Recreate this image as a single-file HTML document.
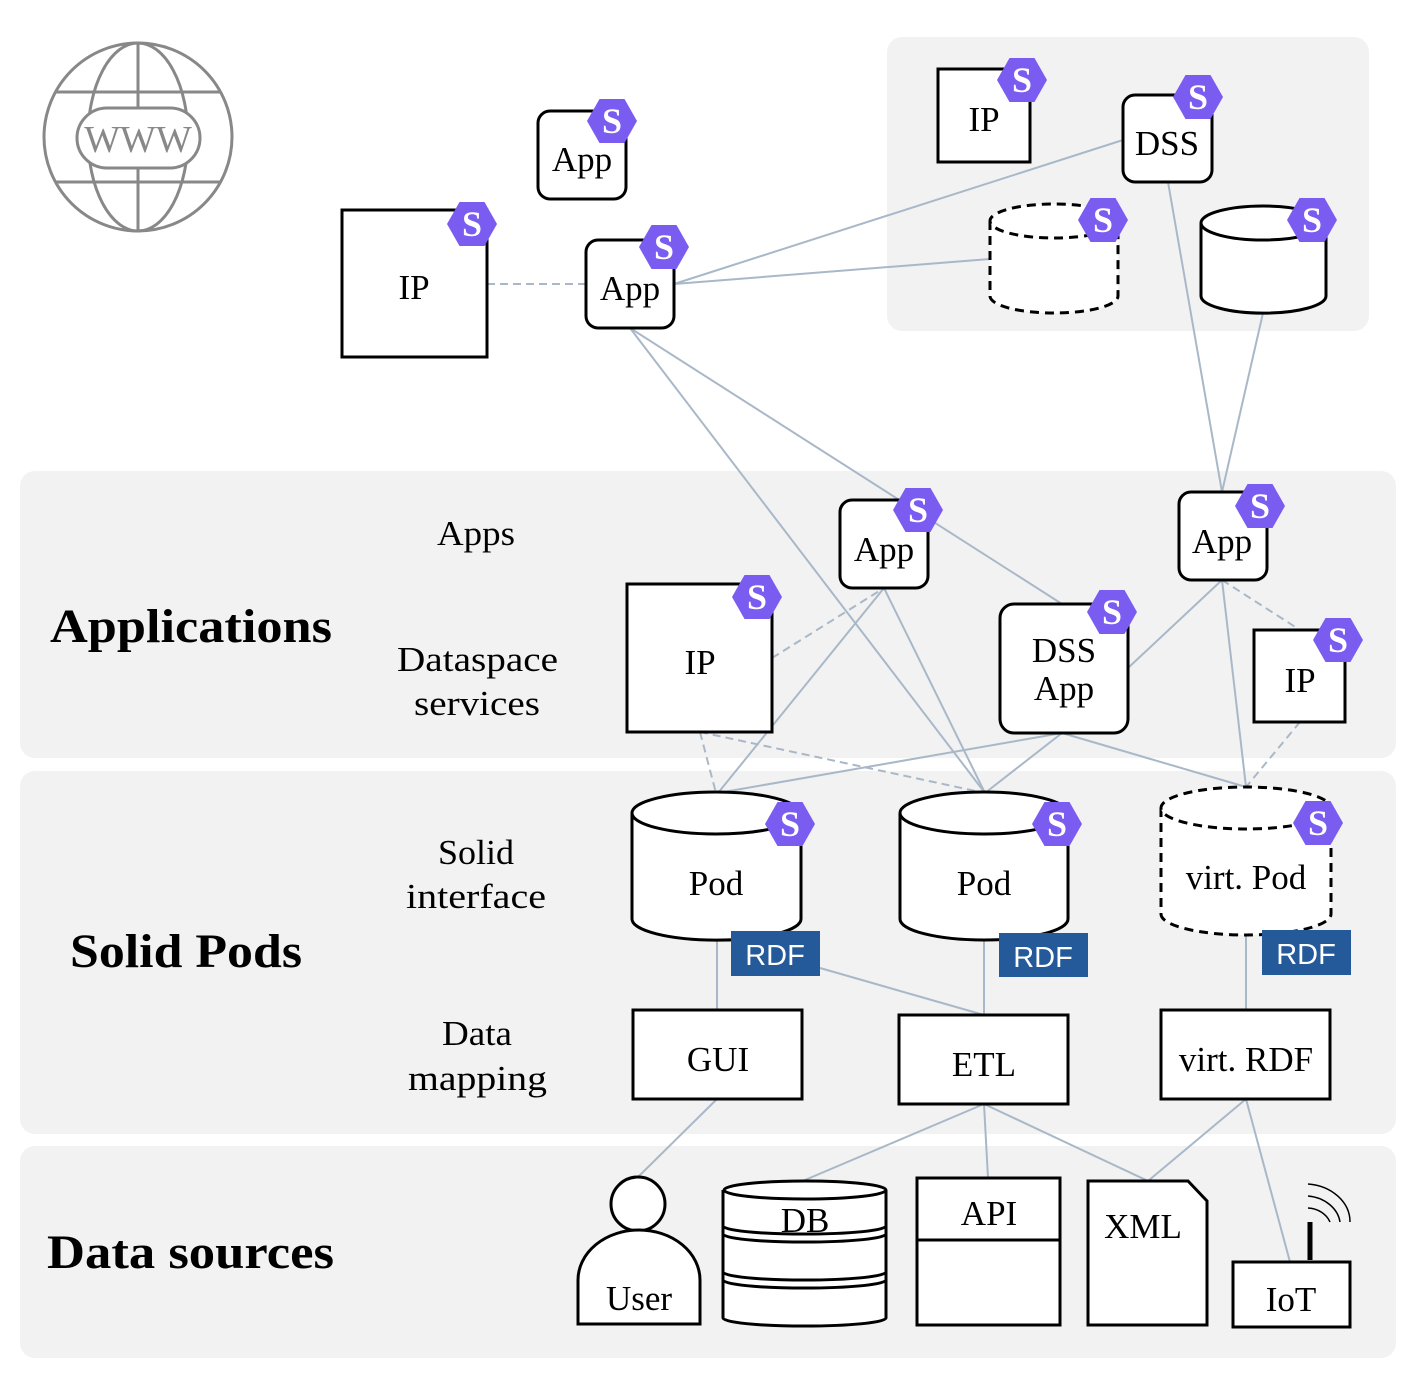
<!DOCTYPE html>
<html><head><meta charset="utf-8"><style>html,body{margin:0;padding:0;background:#fff}svg{display:block}</style></head>
<body>
<svg width="1410" height="1374" viewBox="0 0 1410 1374" xmlns="http://www.w3.org/2000/svg" font-family="'Liberation Serif', serif">
<defs>
<g id="S"><polygon points="-25,0 -12.5,-22 12.5,-22 25,0 12.5,22 -12.5,22" fill="#7b5cf0"/><text x="0" y="12" text-anchor="middle" font-family="'Liberation Serif',serif" font-weight="bold" font-size="36" fill="#fff">S</text></g>
</defs>
<rect x="887" y="37" width="482" height="294" rx="15" fill="#f2f2f2"/>
<rect x="20" y="471" width="1376" height="287" rx="15" fill="#f2f2f2"/>
<rect x="20" y="771" width="1376" height="363" rx="15" fill="#f2f2f2"/>
<rect x="20" y="1146" width="1376" height="212" rx="15" fill="#f2f2f2"/>

<g fill="none" stroke="#888" stroke-width="3">
<circle cx="138" cy="137" r="94"/>
<ellipse cx="138" cy="137" rx="50" ry="94"/>
<line x1="138" y1="43" x2="138" y2="231"/>
<line x1="55" y1="92" x2="221" y2="92"/>
<line x1="55" y1="182" x2="221" y2="182"/>
<rect x="77" y="108" width="123" height="60" rx="30" fill="#fff"/>
</g>
<text x="138" y="152" text-anchor="middle" font-size="38" fill="#888">WWW</text>

<g stroke="#a9b8c8" stroke-width="2" fill="none">
<line x1="674" y1="284" x2="1123" y2="140"/>
<line x1="674" y1="284" x2="990" y2="259"/>
<line x1="630" y1="328" x2="985" y2="793"/>
<line x1="630" y1="328" x2="1062" y2="604"/>
<line x1="1168" y1="182" x2="1222" y2="492"/>
<line x1="1263" y1="313" x2="1222" y2="492"/>
<line x1="884" y1="588" x2="718" y2="793"/>
<line x1="884" y1="588" x2="985" y2="793"/>
<line x1="1062" y1="733" x2="718" y2="793"/>
<line x1="1062" y1="733" x2="985" y2="793"/>
<line x1="1062" y1="733" x2="1246" y2="787"/>
<line x1="1222" y1="580" x2="1128" y2="668"/>
<line x1="1222" y1="580" x2="1246" y2="787"/>
<line x1="717" y1="940" x2="717" y2="1010"/>
<line x1="820" y1="968" x2="984" y2="1015"/>
<line x1="984" y1="940" x2="984" y2="1015"/>
<line x1="1246" y1="935" x2="1246" y2="1010"/>
<line x1="717" y1="1099" x2="638" y2="1177"/>
<line x1="984" y1="1104" x2="805" y2="1180"/>
<line x1="984" y1="1104" x2="988" y2="1178"/>
<line x1="984" y1="1104" x2="1148" y2="1181"/>
<line x1="1246" y1="1099" x2="1148" y2="1181"/>
<line x1="1246" y1="1099" x2="1290" y2="1262"/>
<g stroke-dasharray="8,5">
<line x1="487" y1="284" x2="586" y2="284"/>
<line x1="772" y1="658" x2="884" y2="588"/>
<line x1="700" y1="732" x2="716" y2="793"/>
<line x1="700" y1="732" x2="985" y2="793"/>
<line x1="1222" y1="580" x2="1300" y2="630"/>
<line x1="1300" y1="722" x2="1246" y2="787"/>
</g>
</g>

<g fill="#fff" stroke="#000" stroke-width="3">
<rect x="538" y="111" width="88" height="88" rx="12"/>
<rect x="342" y="210" width="145" height="147"/>
<rect x="586" y="240" width="88" height="88" rx="12"/>
<rect x="938" y="69" width="92" height="93"/>
<rect x="1123" y="95" width="89" height="87" rx="12"/>
<rect x="840" y="500" width="88" height="88" rx="12"/>
<rect x="1179" y="492" width="88" height="88" rx="12"/>
<rect x="627" y="584" width="145" height="148"/>
<rect x="1000" y="604" width="128" height="129" rx="14"/>
<rect x="1254" y="630" width="91" height="92"/>
<path d="M990,221 V296 A64,17 0 0 0 1118,296 V221" stroke-dasharray="9,6"/>
<ellipse cx="1054" cy="221" rx="64" ry="17" stroke-dasharray="9,6"/>
<path d="M1201,223 V296 A62,17 0 0 0 1326,296 V223"/>
<ellipse cx="1263" cy="223" rx="62" ry="17"/>
<path d="M632,813 V919 A84,21 0 0 0 801,919 V813"/>
<ellipse cx="716" cy="813" rx="84" ry="21"/>
<path d="M900,813 V919 A84,21 0 0 0 1068,919 V813"/>
<ellipse cx="984" cy="813" rx="84" ry="21"/>
<path d="M1161,808 V914 A85,21 0 0 0 1331,914 V808" stroke-dasharray="9,6"/>
<ellipse cx="1246" cy="808" rx="85" ry="21" stroke-dasharray="9,6"/>
<rect x="633" y="1010" width="169" height="89"/>
<rect x="899" y="1015" width="169" height="89"/>
<rect x="1161" y="1010" width="169" height="89"/>
<circle cx="638" cy="1204" r="27"/>
<path d="M578,1324 V1280 A61,50 0 0 1 700,1280 V1324 Z"/>
<path d="M723,1190 V1318 A81,8 0 0 0 886,1318 V1190"/>
<ellipse cx="805" cy="1190" rx="81" ry="9"/>
<path d="M723,1226 A81,8 0 0 0 886,1226 M723,1234 A81,8 0 0 0 886,1234 M723,1272 A81,8 0 0 0 886,1272 M723,1280 A81,8 0 0 0 886,1280" fill="none"/>
<rect x="917" y="1178" width="143" height="147"/>
<line x1="917" y1="1240" x2="1060" y2="1240"/>
<path d="M1088,1181 H1188 L1207,1201 V1325 H1088 Z"/>
<rect x="1233" y="1262" width="117" height="65"/>
<line x1="1310" y1="1222" x2="1310" y2="1260" stroke-width="5"/>
</g>
<g fill="none" stroke="#000" stroke-width="1.5">
<path d="M1308,1208 A25,22 0 0 1 1330,1222"/>
<path d="M1308,1196 A36,30 0 0 1 1340,1222"/>
<path d="M1308,1184 A46,38 0 0 1 1350,1222"/>
</g>

<g font-family="'Liberation Sans',sans-serif" font-size="29" fill="#fff" text-anchor="middle">
<rect x="731" y="931" width="89" height="45" fill="#245a9a"/><text x="775" y="965">RDF</text>
<rect x="999" y="933" width="89" height="44" fill="#245a9a"/><text x="1043" y="967">RDF</text>
<rect x="1262" y="930" width="89" height="45" fill="#245a9a"/><text x="1306" y="964">RDF</text>
</g>

<use href="#S" x="612" y="121"/>
<use href="#S" x="472" y="224"/>
<use href="#S" x="664" y="247"/>
<use href="#S" x="1022" y="80"/>
<use href="#S" x="1198" y="97"/>
<use href="#S" x="1103" y="220"/>
<use href="#S" x="1312" y="220"/>
<use href="#S" x="918" y="510"/>
<use href="#S" x="1260" y="506"/>
<use href="#S" x="757" y="597"/>
<use href="#S" x="1112" y="612"/>
<use href="#S" x="1338" y="640"/>
<use href="#S" x="790" y="824"/>
<use href="#S" x="1057" y="824"/>
<use href="#S" x="1318" y="823"/>

<g font-size="35" text-anchor="middle" fill="#000">
<text x="582" y="171">App</text>
<text x="414" y="299">IP</text>
<text x="630" y="300">App</text>
<text x="984" y="131">IP</text>
<text x="1167" y="155">DSS</text>
<text x="884" y="561">App</text>
<text x="1222" y="553">App</text>
<text x="700" y="674">IP</text>
<text x="1064" y="662">DSS</text>
<text x="1064" y="700">App</text>
<text x="1300" y="692">IP</text>
<text x="716" y="895">Pod</text>
<text x="984" y="895">Pod</text>
<text x="1246" y="889">virt. Pod</text>
<text x="718" y="1071">GUI</text>
<text x="984" y="1076">ETL</text>
<text x="1246" y="1071">virt. RDF</text>
<text x="639" y="1310">User</text>
<text x="805" y="1232">DB</text>
<text x="989" y="1225">API</text>
<text x="1143" y="1238">XML</text>
<text x="1291" y="1311">IoT</text>
</g>
<g font-size="35" fill="#000">
<text x="437" y="545" textLength="78" lengthAdjust="spacingAndGlyphs">Apps</text>
<text x="397" y="671" textLength="161" lengthAdjust="spacingAndGlyphs">Dataspace</text>
<text x="414" y="715" textLength="126" lengthAdjust="spacingAndGlyphs">services</text>
<text x="438" y="864" textLength="76" lengthAdjust="spacingAndGlyphs">Solid</text>
<text x="406" y="908" textLength="140" lengthAdjust="spacingAndGlyphs">interface</text>
<text x="442" y="1045" textLength="70" lengthAdjust="spacingAndGlyphs">Data</text>
<text x="408" y="1090" textLength="139" lengthAdjust="spacingAndGlyphs">mapping</text>
</g>
<g font-size="48" font-weight="bold" fill="#000">
<text x="50" y="642" textLength="282" lengthAdjust="spacingAndGlyphs">Applications</text>
<text x="70" y="967" textLength="232" lengthAdjust="spacingAndGlyphs">Solid Pods</text>
<text x="47" y="1268" textLength="287" lengthAdjust="spacingAndGlyphs">Data sources</text>
</g>
</svg>
</body></html>
